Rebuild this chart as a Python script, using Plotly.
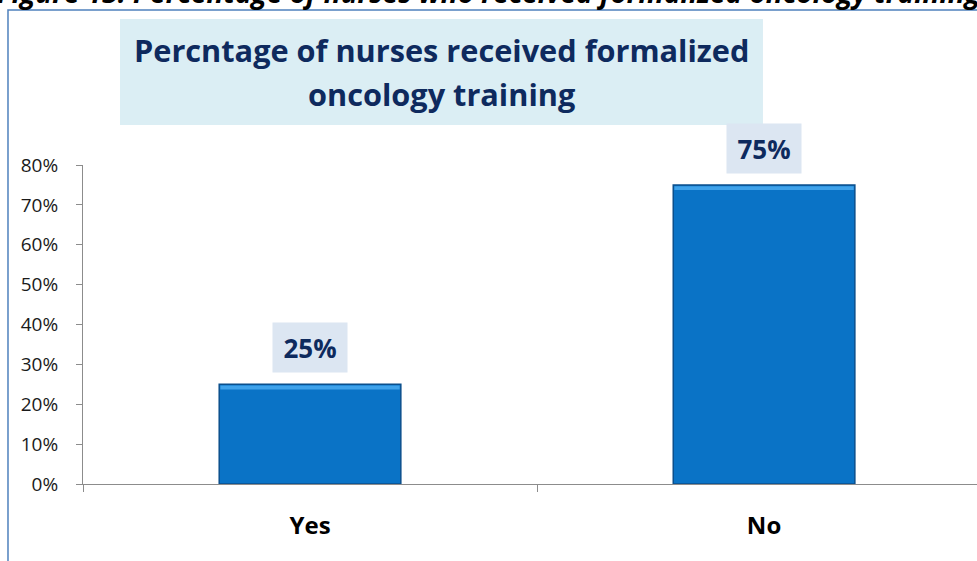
import plotly.graph_objects as go

categories = ["Yes", "No"]
values = [25, 75]
value_labels = ["25%", "75%"]
y_ticks = [0, 10, 20, 30, 40, 50, 60, 70, 80]
y_tick_labels = ["0%", "10%", "20%", "30%", "40%", "50%", "60%", "70%", "80%"]
title_lines = ["Percntage of nurses received formalized", "oncology training"]
caption = "Figure 13: Percentage of nurses who received formalized oncology training"

FONT = "Open Sans"
NAVY = "#0E2A5E"

fig = go.Figure()
fig.add_trace(go.Bar(
    x=categories, y=values, width=0.4,
    marker=dict(color="#0A73C6", line=dict(color="#0B4F8C", width=1.5)),
    hoverinfo="skip",
))
# light bevel highlight along the top edge of each bar
fig.add_trace(go.Bar(
    x=categories, y=[1.0 for _ in values], base=[v - 1.3 for v in values], width=0.395,
    marker=dict(color="#3FA2EA", line=dict(width=0)),
    hoverinfo="skip",
))

for c, v, t in zip(categories, values, value_labels):
    fig.add_annotation(x=c, y=v, text="<b>%s</b>" % t, showarrow=False,
                       xref="x", yref="y", yanchor="bottom", yshift=11,
                       font=dict(family=FONT, size=26, color=NAVY),
                       bgcolor="#DCE6F2", width=72, height=47)

# chart title box
fig.add_shape(type="rect", xref="paper", yref="paper",
              x0=0.0414, x1=0.7606, y0=1.1254, y1=1.4577,
              line=dict(width=0), fillcolor="#DBEEF4", layer="below")
for line, ypos in zip(title_lines, [1.3605, 1.2226]):
    fig.add_annotation(x=0.401, y=ypos, xref="paper", yref="paper",
                       text="<b>%s</b>" % line, showarrow=False,
                       xanchor="center", yanchor="middle",
                       font=dict(family=FONT, size=30.7, color=NAVY))

# cropped caption at the very top
fig.add_annotation(x=0.455, y=1.477, xref="paper", yref="paper",
                   text="<b><i>%s</i></b>" % caption,
                   showarrow=False, xanchor="center", yanchor="bottom",
                   font=dict(family=FONT, size=28, color="#000000"))

# outer border of the chart object
fig.add_shape(type="rect", xref="paper", yref="paper",
              x0=-0.0839, x1=1.2, y0=-0.5, y1=1.4859,
              line=dict(color="#4F81BD", width=1.5), fillcolor="rgba(0,0,0,0)", layer="below")

fig.update_layout(
    width=977, height=561,
    margin=dict(l=83, r=0, t=165, b=77),
    paper_bgcolor="white", plot_bgcolor="white",
    showlegend=False,
    barmode="overlay",
    font=dict(family=FONT),
)
fig.update_xaxes(
    range=[-0.5, 1.469], showline=True, linecolor="#8C8C8C", linewidth=1,
    ticks="outside", tickson="boundaries", ticklen=7, tickcolor="#8C8C8C",
    tickfont=dict(family=FONT, size=24, color="#000000"),
    ticktext=["<b>Yes</b>", "<b>No</b>"], tickvals=categories,
    ticklabelstandoff=20, showgrid=False, zeroline=False,
)
fig.update_yaxes(
    range=[0, 80], tickvals=y_ticks, ticktext=y_tick_labels,
    showline=True, linecolor="#8C8C8C", linewidth=1,
    ticks="outside", ticklen=6, tickcolor="#8C8C8C",
    tickfont=dict(family=FONT, size=19, color="#1A1A1A"),
    ticklabelstandoff=14, showgrid=False, zeroline=False,
)

fig.write_html("out.html", config={"displayModeBar": False},
               post_script="document.body.style.margin='0';document.body.style.overflow='hidden';")
